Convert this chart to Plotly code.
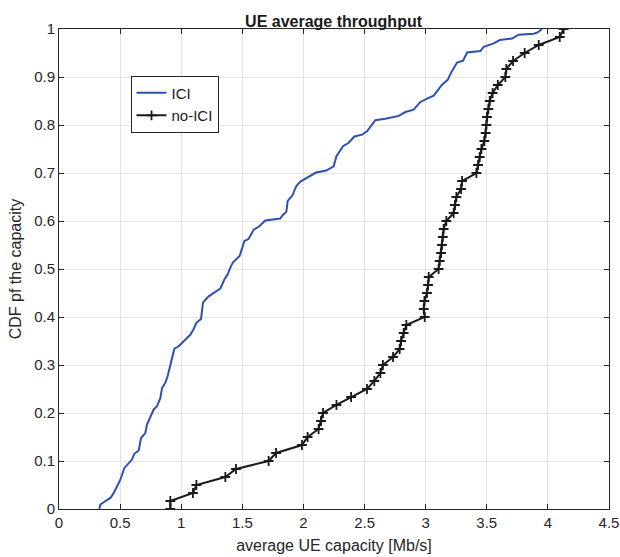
import plotly.graph_objects as go

# ICI curve (blue)
ici_x = [0.33, 0.338, 0.365, 0.42, 0.447, 0.474, 0.502, 0.534, 0.57, 0.597, 0.616, 0.652,
         0.671, 0.706, 0.72, 0.747, 0.774, 0.802, 0.829, 0.843, 0.87, 0.889, 0.916, 0.944,
         0.979, 1.02, 1.074, 1.1, 1.124, 1.162, 1.178, 1.224, 1.265, 1.32, 1.353, 1.38,
         1.407, 1.424, 1.478, 1.516, 1.552, 1.593, 1.634, 1.688, 1.81, 1.83, 1.86, 1.871,
         1.907, 1.942, 1.975, 2.03, 2.103, 2.187, 2.247, 2.27, 2.296, 2.324, 2.37, 2.417,
         2.48, 2.52, 2.588, 2.67, 2.78, 2.834, 2.902, 2.957, 3.011, 3.066, 3.134, 3.18,
         3.208, 3.257, 3.306, 3.339, 3.448, 3.475, 3.557, 3.606, 3.707, 3.761, 3.884,
         3.917, 3.952]
ici_y = [0.0, 0.009, 0.014, 0.023, 0.033, 0.047, 0.061, 0.085, 0.096, 0.103, 0.115, 0.122,
         0.148, 0.158, 0.176, 0.193, 0.207, 0.214, 0.231, 0.252, 0.263, 0.277, 0.305, 0.334,
         0.339, 0.35, 0.363, 0.374, 0.388, 0.396, 0.43, 0.443, 0.45, 0.459, 0.478, 0.489,
         0.506, 0.514, 0.527, 0.558, 0.563, 0.582, 0.588, 0.601, 0.605, 0.612, 0.619, 0.642,
         0.652, 0.673, 0.682, 0.69, 0.701, 0.705, 0.714, 0.735, 0.744, 0.756, 0.763, 0.776,
         0.78, 0.787, 0.81, 0.813, 0.819, 0.827, 0.832, 0.848, 0.855, 0.861, 0.884, 0.894,
         0.909, 0.93, 0.934, 0.951, 0.954, 0.963, 0.97, 0.977, 0.98, 0.988, 0.99,
         0.993, 1.0]

# no-ICI curve (black, + markers)
noici_x = [0.911, 0.911, 1.096, 1.124, 1.361, 1.448, 1.715, 1.776, 1.988, 2.034, 2.124,
           2.144, 2.16, 2.27, 2.39, 2.52, 2.58, 2.63, 2.65, 2.733, 2.787, 2.799, 2.82,
           2.842, 2.992, 2.984, 2.99, 3.011, 3.02, 3.025, 3.106, 3.115, 3.126, 3.134, 3.14,
           3.147, 3.169, 3.229, 3.24, 3.251, 3.29, 3.298, 3.415, 3.429, 3.442, 3.456, 3.48,
           3.491, 3.497, 3.502, 3.513, 3.524, 3.548, 3.59, 3.652, 3.66, 3.715, 3.81, 3.925,
           4.097, 4.129]
noici_y = [0.0, 0.0167, 0.0333, 0.05, 0.0667, 0.0833, 0.1, 0.1167, 0.1333, 0.15, 0.1667,
           0.1833, 0.2, 0.2167, 0.2333, 0.25, 0.2667, 0.2833, 0.3, 0.3167, 0.3333, 0.35,
           0.3667, 0.3833, 0.4, 0.4167, 0.4333, 0.45, 0.4667, 0.4833, 0.5, 0.5167, 0.5333,
           0.55, 0.5667, 0.5833, 0.6, 0.6167, 0.6333, 0.65, 0.6667, 0.6833, 0.7, 0.7167,
           0.7333, 0.75, 0.7667, 0.7833, 0.8, 0.8167, 0.8333, 0.85, 0.8667, 0.8833, 0.9,
           0.9167, 0.9333, 0.95, 0.9667, 0.9833, 1.0]

x_ticks = [0, 0.5, 1, 1.5, 2, 2.5, 3, 3.5, 4, 4.5]
x_labels = ["0", "0.5", "1", "1.5", "2", "2.5", "3", "3.5", "4", "4.5"]
y_ticks = [0, 0.1, 0.2, 0.3, 0.4, 0.5, 0.6, 0.7, 0.8, 0.9, 1]
y_labels = ["0", "0.1", "0.2", "0.3", "0.4", "0.5", "0.6", "0.7", "0.8", "0.9", "1"]

FONT = "Liberation Sans, Arial, sans-serif"
AX = "#262626"

fig = go.Figure()
fig.add_trace(go.Scatter(x=ici_x, y=ici_y, mode="lines", name="ICI",
                         line=dict(color="#2d50b2", width=2)))
fig.add_trace(go.Scatter(x=noici_x, y=noici_y, mode="lines+markers", name="no-ICI",
                         line=dict(color="#1a1a1a", width=2),
                         marker=dict(symbol="cross-thin", size=7,
                                     line=dict(color="#1a1a1a", width=1.8))))

axis_common = dict(showline=True, linecolor=AX, linewidth=1, mirror="ticks",
                   ticks="inside", ticklen=5, tickcolor=AX, showgrid=True,
                   gridcolor="#e3e3e3", gridwidth=1, zeroline=False, automargin=False,
                   tickfont=dict(family=FONT, size=15, color=AX))

fig.update_layout(
    width=620, height=557,
    margin=dict(l=59, r=11, t=29, b=48),
    paper_bgcolor="white", plot_bgcolor="white",
    title=dict(text="<b>UE average throughput</b>", x=0.538, xanchor="center",
               y=0.961, yanchor="middle",
               font=dict(family=FONT, size=16, color="#1a1a1a")),
    xaxis=dict(range=[0, 4.5], tickvals=x_ticks, ticktext=x_labels,
               title=dict(text="average UE capacity [Mb/s]", standoff=9,
                          font=dict(family=FONT, size=16, color=AX)),
               **axis_common),
    yaxis=dict(range=[0, 1], tickvals=y_ticks, ticktext=y_labels,
               title=dict(text="CDF pf the capacity", standoff=8,
                          font=dict(family=FONT, size=16, color=AX)),
               **axis_common),
    legend=dict(x=0.13, y=0.903, xanchor="left", yanchor="top",
                bgcolor="white", bordercolor=AX, borderwidth=1,
                font=dict(family=FONT, size=15, color="#1a1a1a"),
                tracegroupgap=0, itemwidth=30),
    showlegend=True,
)

fig.write_html("out.html")
